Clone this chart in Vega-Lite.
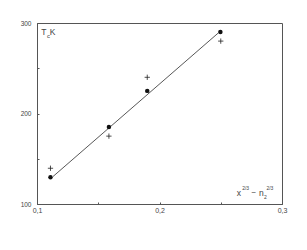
{
  "$schema": "https://vega.github.io/schema/vega-lite/v6.json",
  "width": 245,
  "height": 181,
  "autosize": {"type": "none"},
  "padding": {"left": 37, "top": 23, "right": 25, "bottom": 46},
  "background": "white",
  "config": {
    "view": {"stroke": "#555", "strokeWidth": 1},
    "font": "Liberation Sans"
  },
  "datasets": {
    "dots": [
      {"x": 0.111, "y": 129.5},
      {"x": 0.1587, "y": 185},
      {"x": 0.19, "y": 225},
      {"x": 0.2497, "y": 290}
    ],
    "crosses": [
      {"x": 0.111, "y": 139.5},
      {"x": 0.1587, "y": 175},
      {"x": 0.19, "y": 240},
      {"x": 0.25, "y": 280}
    ],
    "fit": [
      {"x": 0.113, "y": 130.3},
      {"x": 0.248, "y": 289}
    ],
    "labels": [
      {"x": 0.1035, "y": 290, "t": "T", "s": 8.5},
      {"x": 0.1082, "y": 285.5, "t": "c", "s": 6},
      {"x": 0.1105, "y": 290, "t": "K", "s": 8.5},
      {"x": 0.263, "y": 112, "t": "x", "s": 8.5},
      {"x": 0.2675, "y": 117.5, "t": "2/3", "s": 5},
      {"x": 0.275, "y": 112.5, "t": "−", "s": 8},
      {"x": 0.2812, "y": 112, "t": "n", "s": 8.5},
      {"x": 0.2853, "y": 107.5, "t": "2", "s": 5},
      {"x": 0.2873, "y": 117.5, "t": "2/3", "s": 5}
    ]
  },
  "encoding": {
    "x": {
      "field": "x",
      "type": "quantitative",
      "scale": {"domain": [0.1, 0.3], "nice": false, "zero": false},
      "axis": {
        "title": null,
        "values": [0.1, 0.15, 0.2, 0.25, 0.3],
        "labelExpr": "datum.value == 0.15 || datum.value == 0.25 ? '' : replace(format(datum.value, '.1f'), '.', ',')",
        "grid": false,
        "domainColor": "#555",
        "tickColor": "#555",
        "tickSize": -2,
        "labelPadding": 4,
        "labelFontSize": 7,
        "labelColor": "#444",
        "labelFlush": false
      }
    },
    "y": {
      "field": "y",
      "type": "quantitative",
      "scale": {"domain": [100, 300], "nice": false, "zero": false},
      "axis": {
        "title": null,
        "values": [100, 150, 200, 250, 300],
        "labelExpr": "datum.value == 150 || datum.value == 250 ? '' : datum.value",
        "grid": false,
        "domainColor": "#555",
        "tickColor": "#555",
        "tickSize": -2,
        "labelPadding": 8,
        "labelFontSize": 6.5,
        "labelColor": "#444",
        "labelFlush": false
      }
    }
  },
  "layer": [
    {
      "data": {"name": "fit"},
      "mark": {"type": "line", "color": "#444", "strokeWidth": 0.9},
      "encoding": {}
    },
    {
      "data": {"name": "dots"},
      "mark": {"type": "point", "shape": "circle", "filled": true, "color": "#111", "size": 20, "opacity": 1}
    },
    {
      "data": {"name": "crosses"},
      "mark": {"type": "point", "shape": "M-1,0H1M0,-1V1", "filled": false, "color": "#222", "size": 28, "strokeWidth": 0.8, "opacity": 1}
    },
    {
      "data": {"name": "labels"},
      "mark": {"type": "text", "align": "left", "baseline": "middle", "fill": "#444"},
      "encoding": {
        "text": {"field": "t"},
        "size": {"field": "s", "type": "quantitative", "scale": null}
      }
    }
  ]
}
